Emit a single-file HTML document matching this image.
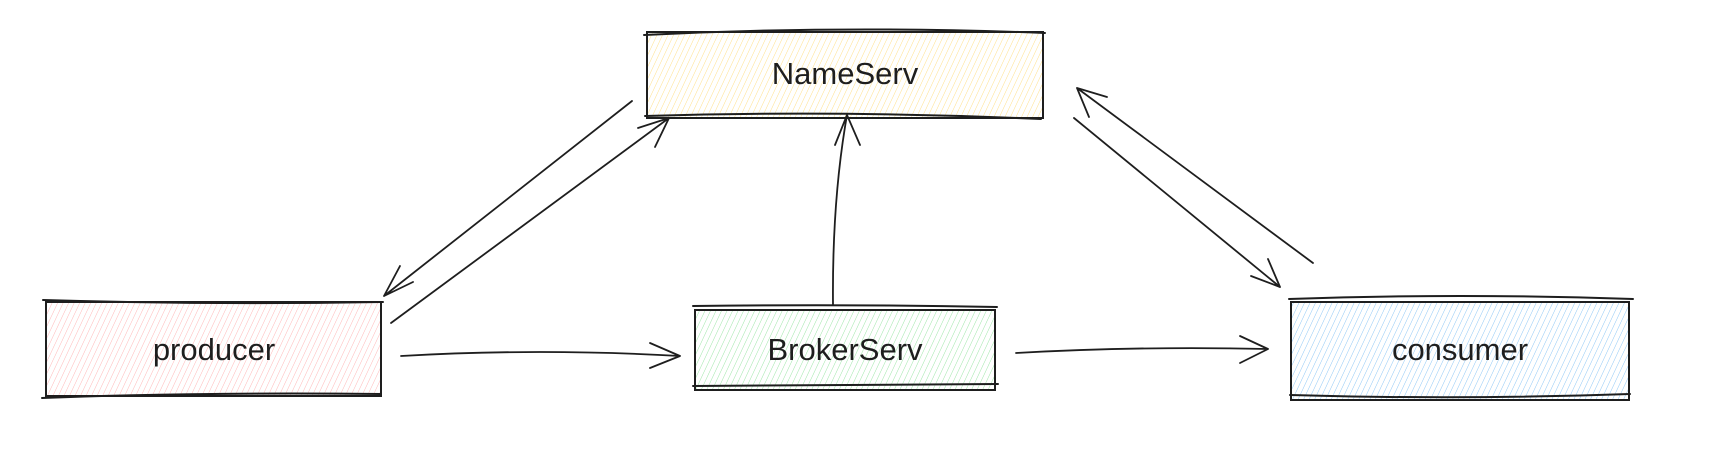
<!DOCTYPE html>
<html><head><meta charset="utf-8"><style>
html,body{margin:0;padding:0;background:#fff;width:1710px;height:450px;overflow:hidden}
text{font-family:"Liberation Sans",sans-serif;font-size:31px;fill:#1e1e1e;text-anchor:middle;dominant-baseline:middle}
</style></head><body>
<svg width="1710" height="450" viewBox="0 0 1710 450" xmlns="http://www.w3.org/2000/svg">
<defs>
<pattern id="py" width="5" height="8" patternUnits="userSpaceOnUse" patternTransform="rotate(25)"><line x1="0" y1="0" x2="0" y2="8" stroke="#ffe08a" stroke-width="1"/></pattern>
<pattern id="pr" width="5" height="8" patternUnits="userSpaceOnUse" patternTransform="rotate(25)"><line x1="0" y1="0" x2="0" y2="8" stroke="#ffb8b8" stroke-width="1"/></pattern>
<pattern id="pg" width="5" height="8" patternUnits="userSpaceOnUse" patternTransform="rotate(25)"><line x1="0" y1="0" x2="0" y2="8" stroke="#9ee6a8" stroke-width="1"/></pattern>
<pattern id="pb" width="5" height="8" patternUnits="userSpaceOnUse" patternTransform="rotate(25)"><line x1="0" y1="0" x2="0" y2="8" stroke="#90c8f5" stroke-width="1"/></pattern>
</defs>
<g stroke="#1e1e1e" stroke-width="2" fill="none" stroke-linecap="round">
<rect x="647" y="32" width="396" height="86" fill="url(#py)"/>
<path d="M644 35 Q845 25 1045 33 M645 116 Q840 110 1041 119"/>
<rect x="46" y="302" width="335" height="94" fill="url(#pr)"/>
<path d="M43 300 Q210 305 383 302 M42 398 Q200 392 381 394"/>
<rect x="695" y="310" width="300" height="80" fill="url(#pg)"/>
<path d="M693 306 Q850 304 997 307 M693 386 Q850 385 998 384"/>
<rect x="1291" y="302" width="338" height="98" fill="url(#pb)"/>
<path d="M1289 299 Q1460 293 1633 299 M1290 395 Q1460 400 1630 394"/>
</g>
<text x="845" y="76">NameServ</text>
<text x="214" y="352">producer</text>
<text x="845" y="352">BrokerServ</text>
<text x="1460" y="352">consumer</text>
<g stroke="#1e1e1e" stroke-width="1.8" fill="none" stroke-linecap="round">
<path d="M391 323 L669 118 M669 118 L638 128 M669 118 L655 147"/>
<path d="M632 101 L384 296 M384 296 L400 266 M384 296 L413 282"/>
<path d="M833 305 Q832 200 847 115 M847 115 L835 145 M847 115 L860 145"/>
<path d="M401 356 Q540 348 680 356 M680 356 L650 343 M680 356 L650 368"/>
<path d="M1016 353 Q1140 346 1268 349 M1268 349 L1240 336 M1268 349 L1240 363"/>
<path d="M1313 263 L1077 88 M1077 88 L1107 97 M1077 88 L1089 117"/>
<path d="M1074 118 L1280 287 M1280 287 L1251 276 M1280 287 L1268 259"/>
</g>
</svg>
</body></html>
